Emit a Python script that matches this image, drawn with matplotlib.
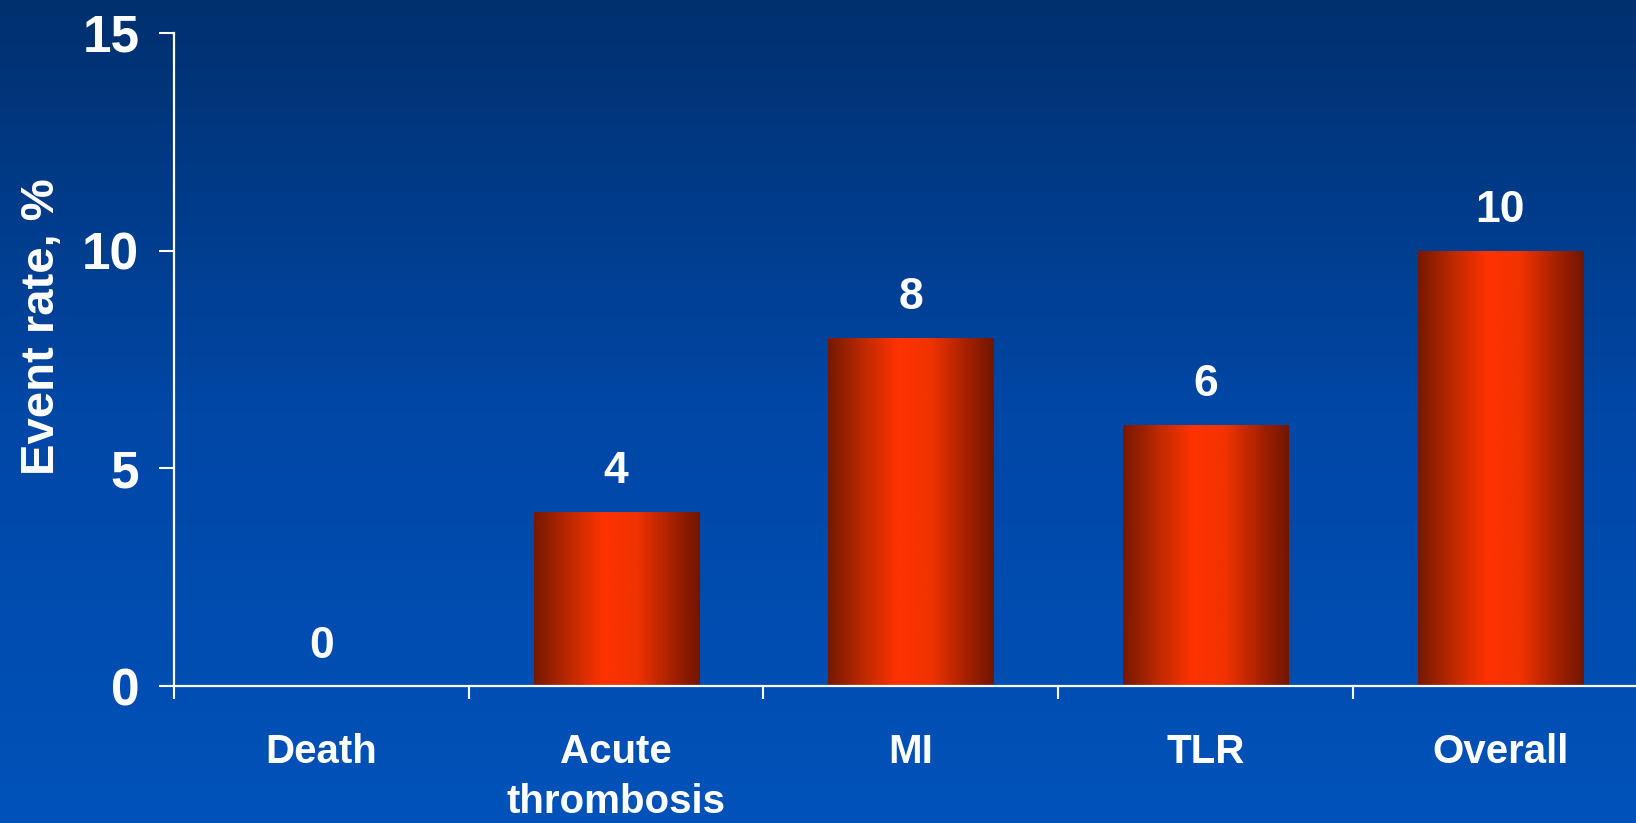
import matplotlib.pyplot as plt
import numpy as np
from matplotlib.colors import LinearSegmentedColormap

categories = ["Death", "Acute\nthrombosis", "MI", "TLR", "Overall"]
values = [0, 4, 8, 6, 10]
yticks = [0, 5, 10, 15]

plt.rcParams['font.family'] = ['Liberation Sans', 'DejaVu Sans']
plt.rcParams['font.weight'] = 'bold'

fig = plt.figure(figsize=(16.36, 8.23), dpi=100)

# nen xanh chuyen mau tu tren xuong
bg = fig.add_axes([0, 0, 1, 1], zorder=-10)
bg_cmap = LinearSegmentedColormap.from_list("bg", ["#00306e", "#0047a6", "#0052ba"])
bg.imshow(np.linspace(0, 1, 256).reshape(-1, 1), aspect="auto", cmap=bg_cmap,
          extent=[0, 1, 0, 1], origin="upper")
bg.axis("off")

ax = fig.add_axes([174 / 1636, 1 - 686 / 823, 1473.5 / 1636, 653 / 823])
ax.patch.set_alpha(0)

x = np.arange(len(categories))
bars = ax.bar(x, values, width=0.56, color="none", edgecolor="none")

bar_cmap = LinearSegmentedColormap.from_list(
    "bar", [(0, "#761800"), (0.22, "#c02a00"), (0.42, "#ff3300"),
            (0.62, "#f03300"), (0.85, "#a02000"), (1, "#701600")])
grad = np.linspace(0, 1, 256).reshape(1, -1)
for b, v in zip(bars, values):
    if v <= 0:
        continue
    im = ax.imshow(grad, aspect="auto", cmap=bar_cmap,
                   extent=[b.get_x(), b.get_x() + b.get_width(), 0, v], zorder=2)
    im.set_clip_path(b)

for xi, v in zip(x, values):
    ax.annotate(str(v), (xi, v), xytext=(0, 14), textcoords="offset points",
                ha="center", va="bottom", color="white", fontsize=32, fontweight="bold")

ax.set_xlim(-0.5, len(categories) - 0.5)
ax.set_ylim(0, 15)

ax.set_xticks(np.arange(len(categories) + 1) - 0.5)
ax.set_xticklabels([])
ax.set_xticks(x, minor=True)
ax.set_xticklabels(categories, minor=True, color="white", fontsize=29,
                   fontweight="bold", linespacing=1.4)
ax.tick_params(axis="x", which="minor", length=0, pad=34)
ax.tick_params(axis="x", which="major", direction="out", length=9, width=1.5, color="white")

ax.set_yticks(yticks)
ax.set_yticklabels([str(t) for t in yticks], color="white", fontsize=37, fontweight="bold")
ax.tick_params(axis="y", direction="out", length=11, width=1.5, color="white", pad=14)

for s in ["top", "right"]:
    ax.spines[s].set_visible(False)
for s in ["left", "bottom"]:
    ax.spines[s].set_color("white")
    ax.spines[s].set_linewidth(1.6)

fig.text(42 / 1636, 1 - 327 / 823, "Event rate, %", rotation=90, ha="center", va="center",
         color="white", fontsize=34, fontweight="bold")

fig.savefig("out.png", dpi=100)
